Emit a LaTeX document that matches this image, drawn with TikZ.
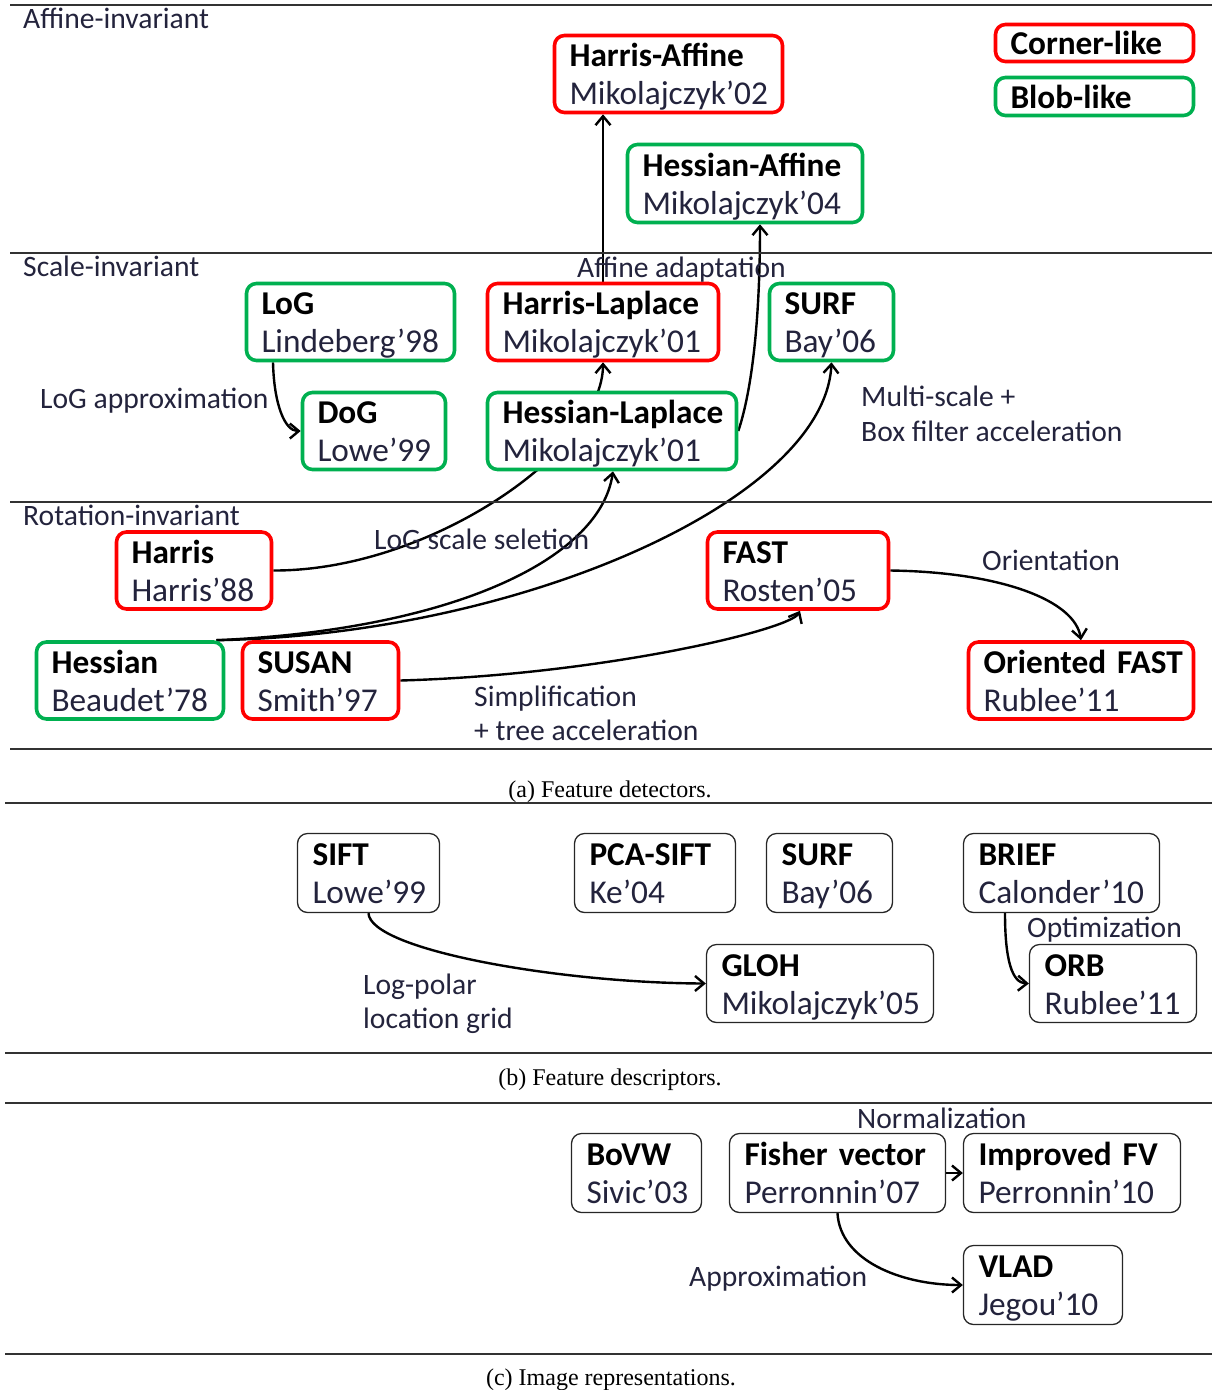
\documentclass[tikz,border=0pt]{standalone}
\usepackage{fontspec}
\setmainfont{Carlito}
\newfontfamily\capfont{Liberation Serif}
\usetikzlibrary{arrows.meta,backgrounds}
\definecolor{redb}{RGB}{255,0,0}
\definecolor{greenb}{RGB}{0,176,80}
\definecolor{txt}{RGB}{35,35,60}
\definecolor{rulec}{RGB}{50,50,50}
\newcommand\mysz{\fontsize{33.3pt}{38pt}\selectfont}
\newcommand\lblsz{\fontsize{29.6pt}{34pt}\selectfont}
\newcommand\nbx[2]{\rule{0pt}{31pt}\mbox{\color{black}\textbf{#1}}\\\mbox{#2}\rule[-8pt]{0pt}{8pt}}
\tikzset{
 basebox/.style={rounded corners=10pt, fill=white, inner xsep=15pt, inner ysep=0pt, align=left, font=\mysz, text=txt},
 rbox/.style={basebox, draw=redb, line width=3.6pt},
 gbox/.style={basebox, draw=greenb, line width=3.6pt},
 kbox/.style={basebox, draw=black!85, line width=1.3pt},
 lbl/.style={font=\lblsz, text=txt, anchor=base west, inner sep=0pt},
 capt/.style={font=\capfont\fontsize{24pt}{28pt}\selectfont, anchor=base, inner sep=0pt},
 sepline/.style={draw=rulec, line width=1.5pt},
 conn/.style={draw=black, line width=2.4pt, -{Straight Barb[length=9pt,width=15pt]}},
}
\begin{document}
\begin{tikzpicture}[x=1pt,y=-1pt]
\useasboundingbox (0,0) rectangle (1212,1390);

% section separators
\draw[sepline] (10,5) -- (1212,5);
\draw[sepline] (10,253) -- (1212,253);
\draw[sepline] (10,502) -- (1212,502);
\draw[sepline] (10,749) -- (1212,749);
\draw[sepline] (5,803) -- (1212,803);
\draw[sepline] (5,1053) -- (1212,1053);
\draw[sepline] (5,1103) -- (1212,1103);
\draw[sepline] (5,1354) -- (1212,1354);

% (a) detectors
\node[rbox, minimum width=228pt, minimum height=77pt, text width=198pt] (HA) at (668.5,74) {\nbx{Harris-Affine}{Mikolajczyk’02}};
\node[gbox, minimum width=235pt, minimum height=78pt, text width=205pt] (HessA) at (745,183.5) {\nbx{Hessian-Affine}{Mikolajczyk’04}};
\node[rbox, minimum width=198pt, minimum height=37pt, text width=168pt] (Corner) at (1094.5,43) {\color{black}\textbf{Corner-like}};
\node[gbox, minimum width=198pt, minimum height=38pt, text width=168pt] (Blob) at (1094.5,96.5) {\color{black}\textbf{Blob-like}};
\node[gbox, minimum width=208pt, minimum height=77pt, text width=178pt] (LoG) at (350.5,322) {\nbx{LoG}{Lindeberg’98}};
\node[rbox, minimum width=231pt, minimum height=77pt, text width=201pt] (HL) at (603,322) {\nbx{Harris-Laplace}{Mikolajczyk’01}};
\node[gbox, minimum width=124pt, minimum height=77pt, text width=94pt] (SURFa) at (831.5,322) {\nbx{SURF}{Bay’06}};
\node[gbox, minimum width=143pt, minimum height=77pt, text width=113pt] (DoG) at (374,431) {\nbx{DoG}{Lowe’99}};
\node[gbox, minimum width=249pt, minimum height=77pt, text width=219pt] (HessL) at (612,431) {\nbx{Hessian-Laplace}{Mikolajczyk’01}};
\node[rbox, minimum width=155pt, minimum height=76pt, text width=125pt] (Harris) at (194,570.5) {\nbx{Harris}{Harris’88}};
\node[rbox, minimum width=181pt, minimum height=76pt, text width=151pt] (FAST) at (798,570.5) {\nbx{FAST}{Rosten’05}};
\node[gbox, minimum width=187pt, minimum height=76pt, text width=157pt] (Hessian) at (130,680.5) {\nbx{Hessian}{Beaudet’78}};
\node[rbox, minimum width=156pt, minimum height=76pt, text width=126pt] (SUSAN) at (320.5,680.5) {\nbx{SUSAN}{Smith’97}};
\node[rbox, minimum width=225pt, minimum height=76pt, text width=195pt] (OFAST) at (1081,680.5) {\nbx{Oriented FAST}{Rublee’11}};

% (b) descriptors
\node[kbox, minimum width=142pt, minimum height=79pt, text width=112pt] (SIFT) at (368.5,873) {\nbx{SIFT}{Lowe’99}};
\node[kbox, minimum width=161pt, minimum height=79pt, text width=131pt] (PCA) at (655,873) {\nbx{PCA-SIFT}{Ke’04}};
\node[kbox, minimum width=126pt, minimum height=79pt, text width=96pt] (SURFb) at (829.5,873) {\nbx{SURF}{Bay’06}};
\node[kbox, minimum width=196pt, minimum height=79pt, text width=166pt] (BRIEF) at (1061.5,873) {\nbx{BRIEF}{Calonder’10}};
\node[kbox, minimum width=227pt, minimum height=78pt, text width=197pt] (GLOH) at (820,983.5) {\nbx{GLOH}{Mikolajczyk’05}};
\node[kbox, minimum width=167pt, minimum height=78pt, text width=137pt] (ORB) at (1113,983.5) {\nbx{ORB}{Rublee’11}};

% (c) representations
\node[kbox, minimum width=130pt, minimum height=79pt, text width=100pt] (BoVW) at (636.5,1173) {\nbx{BoVW}{Sivic’03}};
\node[kbox, minimum width=216pt, minimum height=79pt, text width=186pt] (FV) at (837.5,1173) {\nbx{Fisher vector}{Perronnin’07}};
\node[kbox, minimum width=217pt, minimum height=79pt, text width=187pt] (IFV) at (1072,1173) {\nbx{Improved FV}{Perronnin’10}};
\node[kbox, minimum width=159pt, minimum height=79pt, text width=129pt] (VLAD) at (1043,1285) {\nbx{VLAD}{Jegou’10}};

% labels
\node[lbl] (tA) at (23,28) {Affine-invariant};
\node[lbl] (tS) at (23,276) {Scale-invariant};
\node[lbl] (tR) at (23,525) {Rotation-invariant};
\node[lbl] (lAff) at (577,277) {Affine adaptation};
\node[lbl] (lLoGa) at (40,408) {LoG approximation};
\node[lbl] (lMs1) at (861,406) {Multi-scale +};
\node[lbl] (lMs2) at (861,441) {Box filter acceleration};
\node[lbl] (lLss) at (374,549) {LoG scale seletion};
\node[lbl] (lOri) at (982,570) {Orientation};
\node[lbl] (lSim1) at (474,706) {Simplification};
\node[lbl] (lSim2) at (474,740) {+ tree acceleration};
\node[lbl] (lLp1) at (363,994) {Log-polar};
\node[lbl] (lLp2) at (363,1028) {location grid};
\node[lbl] (lOpt) at (1027,937) {Optimization};
\node[lbl] (lNorm) at (857,1128) {Normalization};
\node[lbl] (lApp) at (689,1286) {Approximation};

% captions
\node[capt] (capA) at (610,797) {(a) Feature detectors.};
\node[capt] (capB) at (610,1085) {(b) Feature descriptors.};
\node[capt] (capC) at (611,1385) {(c) Image representations.};

% connectors
\begin{scope}[on background layer]
\draw[conn] (HL.north) -- (HL.north |- HA.south);
\draw[conn] (HessL.east) .. controls (752,390) and (760,320) .. ([xshift=15pt]HessA.south);
\draw[conn] (Harris.east) .. controls (430,571) and (603,450) .. (HL.south);
\draw[conn] ([xshift=-9pt]Hessian.north east) .. controls (450,630) and (600,560) .. ([xshift=1pt]HessL.south);
\draw[conn] ([xshift=-9pt]Hessian.north east) .. controls (520,635) and (825,500) .. (SURFa.south);
\draw[conn] (SUSAN.east) .. controls (600,675) and (790,630) .. ([xshift=2pt]FAST.south);
\draw[conn] (FAST.east) .. controls (1000,572) and (1075,600) .. (OFAST.north);
\draw[conn] ([xshift=-77.5pt]LoG.south) .. controls (274,405) and (285,431) .. (DoG.west);
\draw[conn] (SIFT.south) .. controls (370,950) and (560,983) .. (GLOH.west);
\draw[conn] ([xshift=-56.5pt]BRIEF.south) .. controls (1005,960) and (1012,983) .. (ORB.west);
\draw[conn] (FV.east) -- (IFV.west);
\draw[conn] (FV.south) .. controls (840,1260) and (900,1285) .. (VLAD.west);
\end{scope}
\end{tikzpicture}
\end{document}
